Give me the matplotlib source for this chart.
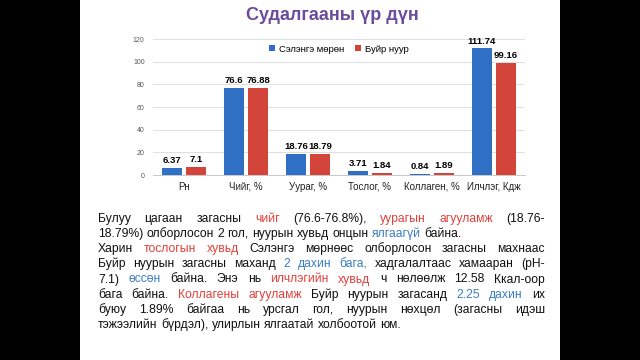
import matplotlib
matplotlib.use('Agg')
import matplotlib.pyplot as plt
import numpy as np
from matplotlib.patches import Rectangle

plt.rcParams['font.family'] = ['Liberation Sans', 'DejaVu Sans']

# chart data
categories = ['Рн', 'Чийг, %', 'Уураг, %', 'Тослог, %', 'Коллаген, %', 'Илчлэг, Кдж']
selenge = [6.37, 76.6, 18.76, 3.71, 0.84, 111.74]
buir = [7.1, 76.88, 18.79, 1.84, 1.89, 99.16]
selenge_labels = ['6.37', '76.6', '18.76', '3.71', '0.84', '111.74']
buir_labels = ['7.1', '76.88', '18.79', '1.84', '1.89', '99.16']
series_names = ['Сэлэнгэ мөрөн', 'Буйр нуур']
yticks = [0, 20, 40, 60, 80, 100, 120]

title = 'Судалгааны үр дүн'

# body text: (phrase, colour key), plus whether the line is justified
body_lines = [
    ([('Булуу цагаан загасны', 'k'), ('чийг', 'r'), ('(76.6-76.8%),', 'k'),
      ('уурагын агууламж', 'r'), ('(18.76-', 'k')], True),
    ([('18.79%) олборлосон 2 гол, нуурын хувьд онцын', 'k'), ('ялгаагүй', 'b'),
      ('байна.', 'k')], False),
    ([('Харин', 'k'), ('тослогын хувьд', 'r'),
      ('Сэлэнгэ мөрнөөс олборлосон загасны махнаас', 'k')], True),
    ([('Буйр нуурын загасны маханд', 'k'), ('2 дахин бага,', 'b'),
      ('хадгалалтаас хамааран (рН-', 'k')], True),
    ([('7.1)', 'k'), ('өссөн', 'b'), ('байна. Энэ нь', 'k'), ('илчлэгийн  хувьд', 'r'),
      ('ч нөлөөлж 12.58 Ккал-оор', 'k')], True),
    ([('бага байна.', 'k'), ('Коллагены агууламж', 'r'), ('Буйр нуурын загасанд', 'k'),
      ('2.25 дахин', 'b'), ('их', 'k')], True),
    ([('буюу 1.89% байгаа нь урсгал гол, нуурын нөхцөл (загасны идэш', 'k')], True),
    ([('тэжээлийн бүрдэл), улирлын ялгаатай холбоотой юм.', 'k')], False),
]
text_colors = {'k': '#111111', 'r': '#E2403A', 'b': '#3A7CC2'}

W, H = 640, 360
fig = plt.figure(figsize=(6.4, 3.6), dpi=100, facecolor='black')
fig.patches.append(Rectangle((80 / W, 0), 480 / W, 1, transform=fig.transFigure,
                             facecolor='white', edgecolor='none', zorder=-5))

fig.text(332 / W, 1 - 15 / H, title, ha='center', va='center', fontsize=13,
         fontweight='bold', color='#6A4C9C')

ax = fig.add_axes([153 / W, 1 - 175 / H, 372 / W, 136 / H])
ax.set_facecolor('white')
x = np.arange(len(categories))
bw = 0.33
off = 0.195
b1 = ax.bar(x - off, selenge, bw, color='#3070C4', label=series_names[0], zorder=3)
b2 = ax.bar(x + off, buir, bw, color='#D3453A', label=series_names[1], zorder=3)
ax.bar_label(b1, labels=selenge_labels, padding=2, fontsize=6.8, fontweight='bold')
ax.bar_label(b2, labels=buir_labels, padding=2, fontsize=6.8, fontweight='bold')
ax.set_xlim(-0.5, len(categories) - 0.5)
ax.set_ylim(0, 120)
ax.set_yticks(yticks)
ax.set_xticks(x)
ax.set_xticklabels(categories, fontsize=7, color='#222222')
ax.tick_params(axis='y', labelsize=5, colors='#595959', length=0, pad=6)
ax.tick_params(axis='x', length=0, pad=5)
ax.grid(axis='y', color='#DADADA', lw=0.6, zorder=0)
for s in ['top', 'right', 'left']:
    ax.spines[s].set_visible(False)
ax.spines['bottom'].set_color('#C8C8C8')
ax.spines['bottom'].set_linewidth(0.7)
ax.legend(loc='upper center', bbox_to_anchor=(0.5, 1.02), ncol=2, frameon=False,
          fontsize=6.8, handlelength=0.6, handleheight=0.6, handletextpad=0.4,
          columnspacing=1.2)

# justified body text, placed word by word
renderer = fig.canvas.get_renderer()
fs = 8.7
left, right = 98, 545
y0, dy = 221.7, 15.2
probe = fig.text(0, 0, 'x x', fontsize=fs)
w2 = probe.get_window_extent(renderer).width
probe.set_text('xx')
space = w2 - probe.get_window_extent(renderer).width
probe.remove()

for i, (phrases, justify) in enumerate(body_lines):
    words = []
    for phrase, ck in phrases:
        for wd in phrase.split():
            words.append((wd, text_colors[ck]))
    ts = []
    widths = []
    for wd, c in words:
        t = fig.text(0, 0, wd, fontsize=fs, color=c, va='baseline', ha='left')
        ts.append(t)
        widths.append(t.get_window_extent(renderer).width)
    if justify and len(words) > 1:
        gap = (right - left - sum(widths)) / (len(words) - 1)
    else:
        gap = space
    xp = left
    yb = 1 - (y0 + i * dy) / H
    for t, w in zip(ts, widths):
        t.set_position((xp / W, yb))
        xp += w + gap

fig.savefig('out.png', dpi=100, facecolor=fig.get_facecolor())
